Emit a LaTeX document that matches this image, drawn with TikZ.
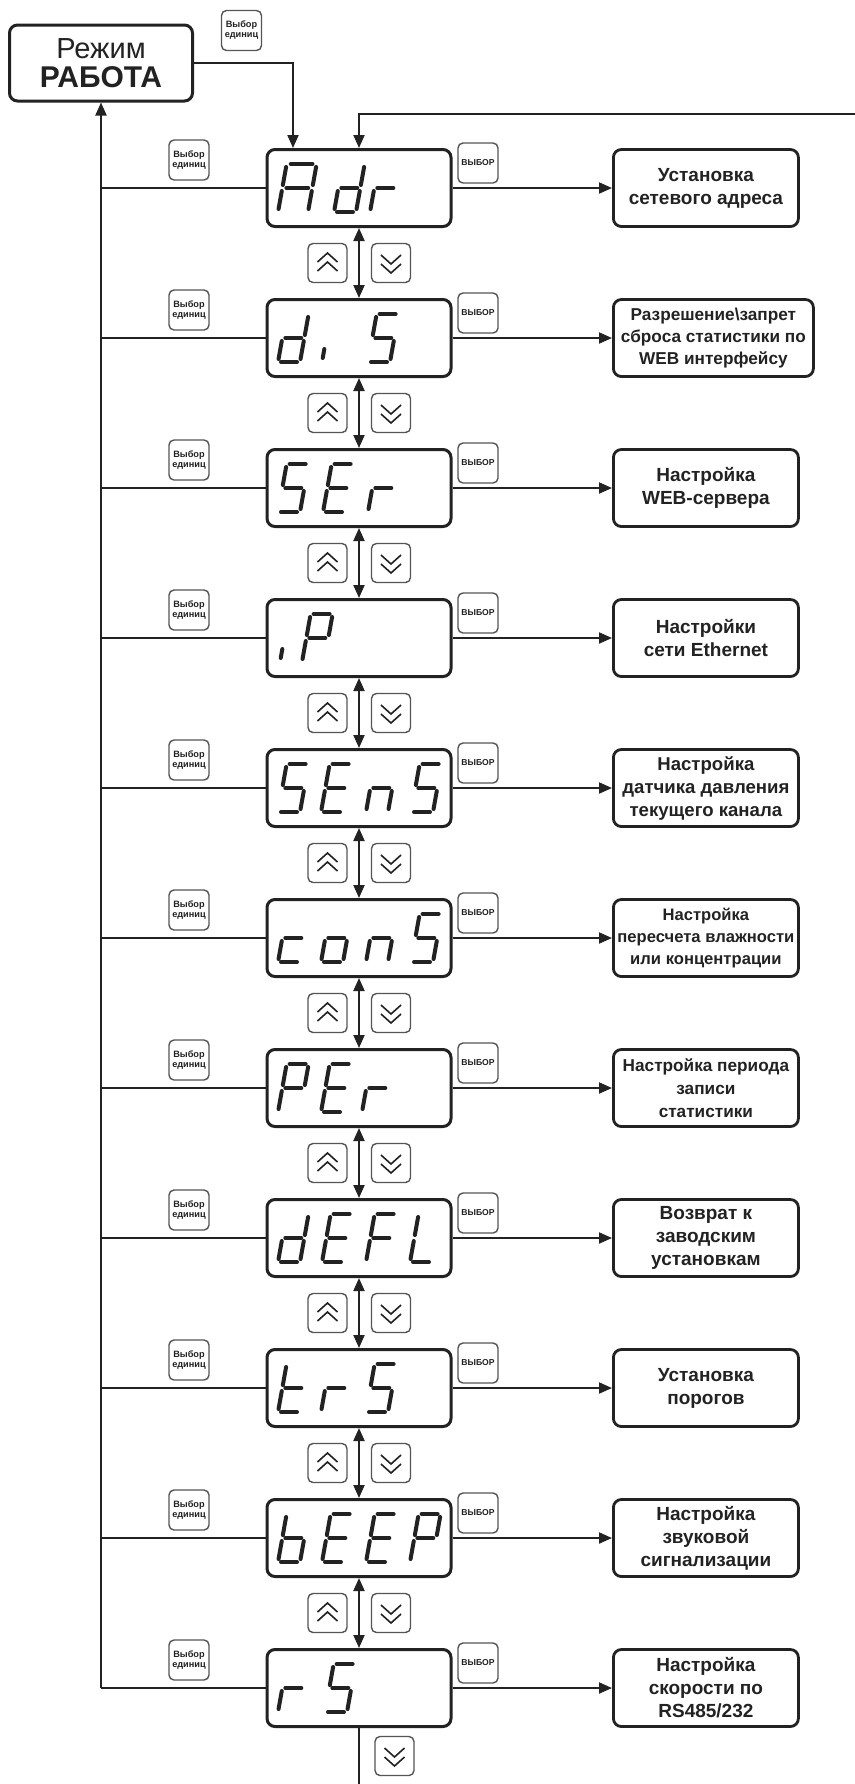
\documentclass[tikz,border=0pt]{standalone}
\usepackage{fontspec}
\setmainfont{Liberation Sans}
\usetikzlibrary{arrows.meta}
\definecolor{ink}{HTML}{222222}
\definecolor{btn}{HTML}{555555}

\tikzset{
 disp/.style={draw=ink, line width=1.5pt, rounded corners=4pt, minimum width=92pt, minimum height=38.5pt, inner sep=0pt},
 target/.style={draw=ink, line width=1.4pt, rounded corners=4pt, minimum height=38.5pt, inner sep=0pt, align=center, text=ink},
 selbtn/.style={draw=btn, line width=0.7pt, rounded corners=2.5pt, minimum width=20pt, minimum height=20pt, inner sep=0pt, align=center, text=ink, font={\fontsize{4.6}{5}\selectfont\bfseries}},
 navbtn/.style={draw=btn, line width=0.7pt, rounded corners=2.5pt, minimum width=19.5pt, minimum height=19.5pt, inner sep=0pt},
 conn/.style={draw=ink, line width=1pt},
 arr/.style={conn, -{Triangle[length=6.5pt,width=5.5pt]}},
 darr/.style={conn, {Triangle[length=6.5pt,width=5.5pt]}-{Triangle[length=6.5pt,width=5.5pt]}},
 seg/.style={draw=ink, line width=2pt, line cap=round},
 chev/.style={draw=ink, line width=0.8pt},
 upchev/.pic={\draw[chev] (-10,-1)--(0,-10)--(10,-1); \draw[chev] (-10,8)--(0,-1)--(10,8);},
 downchev/.pic={\draw[chev] (-10,-8)--(0,1)--(10,-8); \draw[chev] (-10,1)--(0,10)--(10,1);},
}

% seven segment character: [width] x (bottom-left) y (bottom) bits abcdefg
\newcommand\ssg[4][22]{\begin{scope}[shift={(#2,#3)},xslant=0.18,xscale=#1/22]\ssgparse#4\relax\end{scope}}
\def\ssgparse#1#2#3#4#5#6#7\relax{%
 \ifnum#1=1 \draw[seg] (3,-48)--(19,-48);\fi
 \ifnum#2=1 \draw[seg] (22,-45)--(22,-27);\fi
 \ifnum#3=1 \draw[seg] (22,-21)--(22,-3);\fi
 \ifnum#4=1 \draw[seg] (3,0)--(19,0);\fi
 \ifnum#5=1 \draw[seg] (0,-3)--(0,-21);\fi
 \ifnum#6=1 \draw[seg] (0,-27)--(0,-45);\fi
 \ifnum#7=1 \draw[seg] (3,-24)--(19,-24);\fi}
\newcommand\ssi[2]{\begin{scope}[shift={(#1,#2)},xslant=0.18]\draw[seg] (0,-4)--(0,-13);\end{scope}}

\newcommand\mkrow[6]{%
 \node[disp] (d#1) at (359,#2) {};
 \node[target, anchor=west, minimum width=#3pt, font={\fontsize{#4}{#5}\selectfont\bfseries}] (t#1) at (612,#2) {#6};
 \node[selbtn] (u#1) at (189,#2-28) {Выбор\\единиц};
 \node[selbtn, font={\fontsize{4.3}{5}\selectfont\bfseries}] (v#1) at (478,#2-25) {ВЫБОР};
 \coordinate (l#1) at (101,#2);
 \draw[arr] (d#1.east) -- (t#1.west);
 \draw[conn] (d#1.west) -- (l#1);
}
\newcommand\mknav[3]{%
 \draw[darr] (d#1.south) -- (d#2.north);
 \node[navbtn] (nu#1) at (327.5,#3+75) {};
 \pic at (nu#1) {upchev};
 \node[navbtn] (nd#1) at (391,#3+75) {};
 \pic at (nd#1) {downchev};
}

\begin{document}
\begin{tikzpicture}[x=0.5pt,y=-0.5pt]
\useasboundingbox[fill=white] (0,0) rectangle (855,1784);

\node[draw=ink, line width=1.5pt, rounded corners=4pt, minimum width=91.5pt, minimum height=38pt, inner sep=0pt, align=center, text=ink] (mode) at (101,63)
 {{\fontsize{14.5}{16}\selectfont Режим}\\[2.5pt]{\fontsize{15}{16}\selectfont\bfseries РАБОТА}};
\node[selbtn] (top) at (241.5,30.5) {Выбор\\единиц};

\mkrow{0}{188}{92.5}{9.5}{11.5}{Установка\\сетевого адреса}
\mkrow{1}{338}{100}{8.6}{11}{Разрешение\textbackslash запрет\\сброса статистики по\\WEB интерфейсу}
\mkrow{2}{488}{92.5}{9.5}{11.5}{Настройка\\WEB-сервера}
\mkrow{3}{638}{92.5}{9.5}{11.5}{Настройки\\сети Ethernet}
\mkrow{4}{788}{92.5}{9.3}{11.5}{Настройка\\датчика давления\\текущего канала}
\mkrow{5}{938}{92.5}{8.3}{11}{Настройка\\пересчета влажности\\или концентрации}
\mkrow{6}{1088}{92.5}{8.6}{11.5}{Настройка периода\\записи\\статистики}
\mkrow{7}{1238}{92.5}{9.5}{11.5}{Возврат к\\заводским\\установкам}
\mkrow{8}{1388}{92.5}{9.5}{11.5}{Установка\\порогов}
\mkrow{9}{1538}{92.5}{9.5}{11.5}{Настройка\\звуковой\\сигнализации}
\mkrow{10}{1688}{92.5}{9.5}{11.5}{Настройка\\скорости по\\RS485/232}

\mknav{0}{1}{188}
\mknav{1}{2}{338}
\mknav{2}{3}{488}
\mknav{3}{4}{638}
\mknav{4}{5}{788}
\mknav{5}{6}{938}
\mknav{6}{7}{1088}
\mknav{7}{8}{1238}
\mknav{8}{9}{1388}
\mknav{9}{10}{1538}

% top connections
\draw[arr] (mode.east) -| ([xshift=-33pt]d0.north);
\coordinate (ret) at (855,114);
\draw[arr] (ret) -| (d0.north);
\draw[arr] (l10) -- (mode.south);

% bottom exit
\coordinate (bend) at (359,1784);
\draw[conn] (d10.south) -- (bend);
\node[navbtn] (ndb) at (394.5,1756) {};
\pic at (ndb) {downchev};

% display characters
% Adr
\ssg[30]{278}{212}{1110111}\ssg{334}{212}{0111101}\ssg{370}{212}{0000101}
% di S
\ssg{278}{362}{0111101}\ssi{322}{362}\ssg{368}{362}{1011011}
% SEr
\ssg{278}{512}{1011011}\ssg{323}{512}{1001111}\ssg{368}{512}{0000101}
% iP
\ssi{280}{662}\ssg{302}{662}{1100111}
% SEnS
\ssg{278}{812}{1011011}\ssg{321}{812}{1001111}\ssg{366}{812}{0010101}\ssg{411}{812}{1011011}
% conS
\ssg{278}{962}{0001101}\ssg{321}{962}{0011101}\ssg{366}{962}{0010101}\ssg{411}{962}{1011011}
% PEr
\ssg{278}{1112}{1100111}\ssg{321}{1112}{1001111}\ssg{362}{1112}{0000101}
% dEFL
\ssg{278}{1262}{0111101}\ssg{322}{1262}{1001111}\ssg{366}{1262}{1000111}\ssg{410}{1262}{0001110}
% trS
\ssg{278}{1412}{0001111}\ssg{321}{1412}{0000101}\ssg{366}{1412}{1011011}
% bEEP
\ssg{278}{1562}{0011111}\ssg{322}{1562}{1001111}\ssg{366}{1562}{1001111}\ssg{410}{1562}{1100111}
% rS
\ssg{278}{1712}{0000101}\ssg{325}{1712}{1011011}
\end{tikzpicture}
\end{document}
